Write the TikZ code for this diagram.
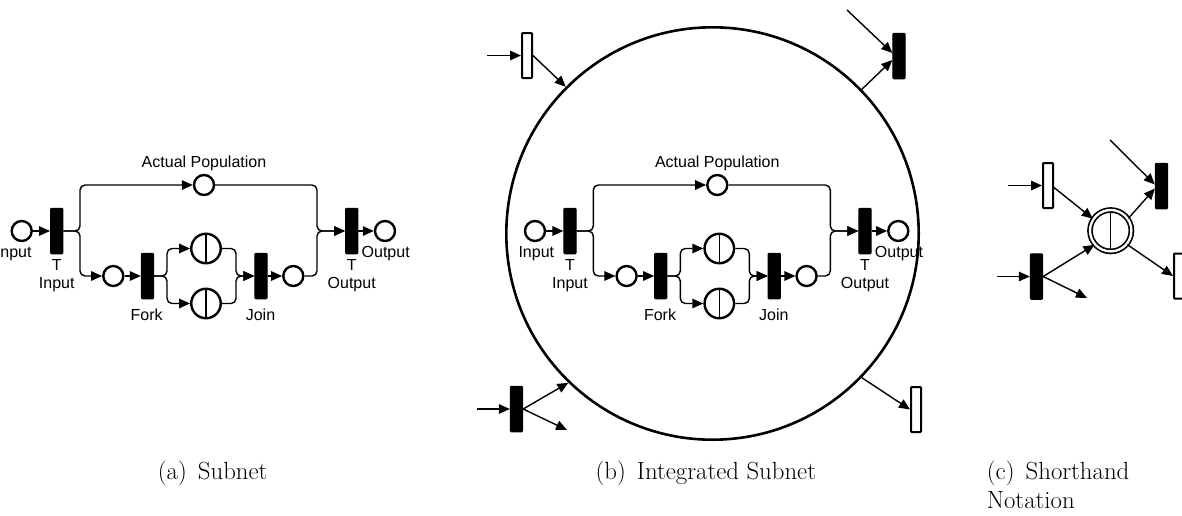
\documentclass[tikz,border=0pt]{standalone}
\usepackage{fontspec}
\newfontfamily\lblfont{Liberation Sans}
\usetikzlibrary{arrows.meta,calc}
\tikzset{
  place/.style={circle,draw,line width=2.4pt,minimum size=20pt,inner sep=0pt,fill=white},
  cplace/.style={circle,draw,line width=2.4pt,minimum size=29.5pt,inner sep=0pt,
    path picture={\draw[line width=1.4pt] (path picture bounding box.north) -- (path picture bounding box.south);}},
  dplace/.style={circle,draw,double,double distance=2.3pt,line width=1.7pt,minimum size=41.4pt,inner sep=0pt,
    path picture={\draw[line width=1.4pt] (path picture bounding box.north) -- (path picture bounding box.south);}},
  bigcircle/.style={circle,draw,line width=2.6pt,minimum size=412.4pt,inner sep=0pt},
  btrans/.style={rectangle,draw,fill=black,line width=1pt,minimum width=12.3pt,minimum height=45.5pt,inner sep=0pt,rounded corners=1pt},
  wtrans/.style={rectangle,draw,fill=white,line width=2pt,minimum width=10pt,minimum height=45pt,inner sep=0pt,rounded corners=0.8pt},
  arc/.style={line width=1.4pt,-{Triangle[length=11pt,width=9.5pt]},rounded corners=5pt},
  lbl/.style={font=\lblfont\fontsize{16}{18.3}\selectfont,inner sep=0pt,align=center},
  captext/.style={font=\fontsize{24.8}{29}\selectfont,inner sep=0pt}
}
\newcommand\petrisubnet[2]{%
\begin{scope}[xshift=#2]
\node[place] (#1pin) at (21.7,231) {};
\node[btrans] (#1tin) at (56.7,231) {};
\node[place] (#1pop) at (204,185) {};
\node[place] (#1p1) at (113.3,276) {};
\node[btrans] (#1fork) at (147.5,276) {};
\node[cplace] (#1c1) at (206,248.5) {};
\node[cplace] (#1c2) at (206,303.5) {};
\node[btrans] (#1join) at (261,276) {};
\node[place] (#1p2) at (293.3,276) {};
\node[btrans] (#1tout) at (351.7,231) {};
\node[place] (#1pout) at (385,231) {};
\node[lbl,anchor=base] (#1lpop) at (204,167.5) {Actual Population};
\node[lbl,anchor=north] (#1ltin) at (56.7,259.2) {T\\Input};
\node[lbl,anchor=north] (#1ltout) at (351.7,259.2) {T\\Output};
\node[lbl,anchor=base] (#1lfork) at (146.7,320.5) {Fork};
\node[lbl,anchor=base] (#1ljoin) at (260.5,320.5) {Join};
\node[lbl,anchor=base] (#1lout) at (385.7,257) {Output};
\draw[arc] (#1pin.east) -- (#1tin.west);
\draw[arc] (#1tin.east) -- (80,231) -- (80,185) -- (#1pop.west);
\draw[arc] (#1tin.east) -- (80,231) -- (80,276) -- (#1p1.west);
\draw[arc] (#1p1.east) -- (#1fork.west);
\draw[arc] (#1fork.east) -- (167,276) -- (167,248.5) -- (#1c1.west);
\draw[arc] (#1fork.east) -- (167,276) -- (167,303.5) -- (#1c2.west);
\draw[arc] (#1c1.east) -- (236,248.5) -- (236,276) -- (#1join.west);
\draw[arc] (#1c2.east) -- (236,303.5) -- (236,276) -- (#1join.west);
\draw[arc] (#1join.east) -- (#1p2.west);
\draw[arc] (#1pop.east) -- (317,185) -- (317,231) -- (#1tout.west);
\draw[arc] (#1p2.east) -- (317,276) -- (317,231) -- (#1tout.west);
\draw[arc] (#1tout.east) -- (#1pout.west);
\end{scope}}
\begin{document}
\begin{tikzpicture}[x=1pt,y=-1pt]
\useasboundingbox (0,0) rectangle (1182,515);
\clip (0,0) rectangle (1182,515);
% (a)
\petrisubnet{a}{0pt}
\node[lbl,anchor=base east] (ain) at (31.7,257.3) {Input};
% (b)
\node[bigcircle] (bigc) at (712.5,233.5) {};
\petrisubnet{b}{513.3pt}
\node[lbl,anchor=base] (bin) at (536.3,257) {Input};
\node[wtrans] (wt1) at (527,55.5) {};
\coordinate (s1) at (487,55.5);
\draw[arc] (s1) -- (wt1.west);
\draw[arc] (wt1.east) -- (bigc.135);
\node[btrans] (bt1) at (899,56) {};
\coordinate (s2) at (847,10);
\draw[arc] (s2) -- ($(bt1.west)+(0,-3)$);
\draw[arc] (bigc.44) -- ($(bt1.west)+(0,4)$);
\node[btrans] (bt2) at (516.5,409) {};
\coordinate (s3) at (477,409);
\coordinate (e3) at (567,430);
\draw[arc] (s3) -- (bt2.west);
\draw[arc] (bt2.east) -- (bigc.226);
\draw[arc] (bt2.east) -- (e3);
\node[wtrans] (wt2) at (916,409.5) {};
\draw[arc] (bigc.316) -- (wt2.west);
% (c)
\node[dplace] (dc) at (1110.7,230.7) {};
\node[wtrans] (wt3) at (1048,185.5) {};
\coordinate (s4) at (1008,185.5);
\draw[arc] (s4) -- (wt3.west);
\draw[arc] ($(wt3.east)+(0,2)$) -- (dc.146);
\node[btrans] (bt3) at (1161.5,186) {};
\coordinate (s5) at (1110,140);
\draw[arc] (s5) -- ($(bt3.west)+(0,-1.5)$);
\draw[arc] (dc.35) -- ($(bt3.west)+(0,2.5)$);
\node[btrans] (bt4) at (1036.5,276.5) {};
\coordinate (s6) at (997,276.5);
\coordinate (e6) at (1087,298);
\draw[arc] (s6) -- (bt4.west);
\draw[arc] (bt4.east) -- (dc.221);
\draw[arc] (bt4.east) -- (e6);
\node[wtrans] (wt4) at (1179,276) {};
\draw[arc] (dc.320) -- (wt4.west);
% captions
\node[captext,anchor=base] (capa) at (212.7,479) {(a)\hspace{0.45em}Subnet};
\node[captext,anchor=base] (capb) at (705.8,479) {(b)\hspace{0.45em}Integrated Subnet};
\node[captext,anchor=north west,align=left] (capc) at (986.7,460.4) {(c)\hspace{0.45em}Shorthand\\Notation};
\end{tikzpicture}
\end{document}
